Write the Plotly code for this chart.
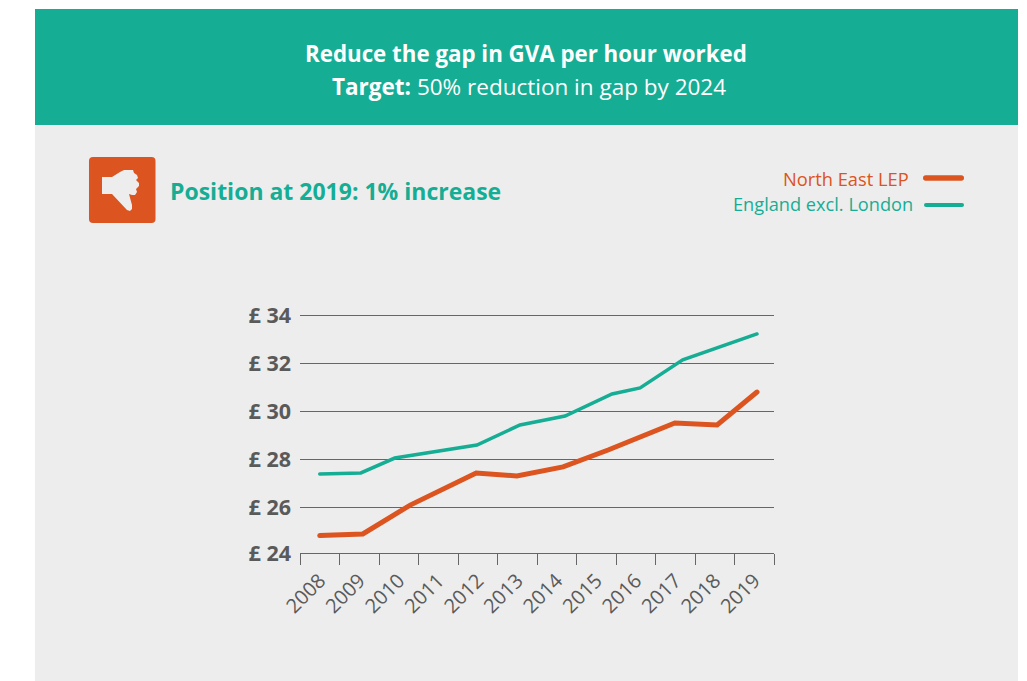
import plotly.graph_objects as go

year_labels = [2008,2009,2010,2011,2012,2013,2014,2015,2016,2017,2018,2019]
north_east_x = [2008.0,2009.09,2010.29,2011.02,2011.96,2012.99,2014.16,2015.30,2016.31,2016.99,2018.06,2019.07]
north_east = [24.81,24.875,26.08,26.67,27.42,27.29,27.67,28.375,29.08,29.5,29.42,30.79]
england_x = [2008.0,2009.04,2009.90,2010.94,2011.98,2013.07,2014.21,2015.40,2016.11,2017.19,2018.13,2019.07]
england = [27.375,27.42,28.04,28.31,28.58,29.42,29.79,30.71,30.96,32.13,32.67,33.21]
y_ticks = [26,28,30,32,34]
y_labels = ["£ 26","£ 28","£ 30","£ 32","£ 34"]
ORANGE = "#dc5420"; GREEN = "#16ad95"; GREY = "#5a5a5a"; BG = "#ededed"
FONT = "Open Sans"
W, H = 1027, 681
L, R, T, B = 300, 774, 314, 553
Y_BOTTOM = 24.083   # the baseline sits slightly above the 24 position in the reference
Y_TOP = 34.042

def px(x): return (x - L) / (R - L)
def py(y): return (B - y) / (B - T)

fig = go.Figure()
fig.add_trace(go.Scatter(x=england_x, y=england, mode="lines", name="England excl. London",
                         line=dict(color=GREEN, width=3.5), showlegend=False))
fig.add_trace(go.Scatter(x=north_east_x, y=north_east, mode="lines", name="North East LEP",
                         line=dict(color=ORANGE, width=5), showlegend=False))

def rect(x0, y0, x1, y1, color):
    return dict(type="rect", xref="paper", yref="paper", layer="below", x0=px(x0), x1=px(x1),
                y0=py(y0), y1=py(y1), fillcolor=color, line_width=0)

def path(points, color):
    d = "M" + " L".join(f"{px(x):.5f},{py(y):.5f}" for x, y in points) + " Z"
    return dict(type="path", xref="paper", yref="paper", path=d, fillcolor=color, line_width=0)

def rounded(x0, y0, x1, y1, r, color):
    d = (f"M{px(x0+r):.5f},{py(y0):.5f} L{px(x1-r):.5f},{py(y0):.5f} "
         f"Q{px(x1):.5f},{py(y0):.5f} {px(x1):.5f},{py(y0+r):.5f} L{px(x1):.5f},{py(y1-r):.5f} "
         f"Q{px(x1):.5f},{py(y1):.5f} {px(x1-r):.5f},{py(y1):.5f} L{px(x0+r):.5f},{py(y1):.5f} "
         f"Q{px(x0):.5f},{py(y1):.5f} {px(x0):.5f},{py(y1-r):.5f} L{px(x0):.5f},{py(y0+r):.5f} "
         f"Q{px(x0):.5f},{py(y0):.5f} {px(x0+r):.5f},{py(y0):.5f} Z")
    return dict(type="path", xref="paper", yref="paper", path=d, fillcolor=color, line_width=0)

thumb = [(102,177),(112,177),(120,172),(124,170),(133,170),(134,173),(137,175),(138,178),(136,180),
         (139,183),(139,186),(136,189),(137,192),(135,195),(132,195),(129,194),(132,205),(132,209),
         (130,211),(127,210),(112,194),(102,194)]

shapes = [rect(35,125,1018,681,BG), rect(35,9,1018,125,GREEN),
          rounded(89,157,155.5,223,4,ORANGE), path(thumb,BG),
          rounded(923,175.3,964,180.7,2.7,ORANGE), rounded(924,203,964,207,2,GREEN)]

def note(x, y, text, size, color, anchor="center"):
    return dict(xref="paper", yref="paper", x=px(x), y=py(y), text=text, showarrow=False, xanchor=anchor,
                yanchor="middle", font=dict(family=FONT, size=size, color=color))

annotations = [
    note(526,53.5,"<b>Reduce the gap in GVA per hour worked</b>",22.3,"white"),
    note(528.5,86.5,"<b>Target:</b> 50% reduction in gap by 2024",22.5,"white"),
    note(167.5,190.5,"<b>Position at 2019: 1% increase</b>",23,GREEN,"left"),
    note(911,178,"North East LEP",18.3,ORANGE,"right"),
    note(915,204,"England excl. London",18.2,GREEN,"right"),
]

fig.update_layout(
    width=W, height=H, autosize=False, margin=dict(l=L, r=W-R, t=T, b=H-B, pad=0),
    paper_bgcolor="white", plot_bgcolor=BG, shapes=shapes, annotations=annotations,
    font=dict(family=FONT, color=GREY),
    xaxis=dict(range=[2007.5,2019.5], tickvals=year_labels, ticktext=[str(y) for y in year_labels],
               ticks="", ticklabelstandoff=7,
               minor=dict(tick0=2007.5, dtick=1, ticks="outside", ticklen=11, tickcolor="#666666",
                          tickwidth=1, showgrid=False),
               showline=True, linecolor="#666666", linewidth=1, showgrid=False, zeroline=False, tickangle=-45,
               tickfont=dict(family=FONT, size=20, color=GREY)),
    yaxis=dict(range=[Y_BOTTOM,Y_TOP], tickvals=[Y_BOTTOM]+y_ticks,
               ticktext=["<b>£ 24</b>"]+[f"<b>{t}</b>" for t in y_labels],
               showgrid=True, gridcolor="#666666", gridwidth=1, zeroline=False, showline=False,
               ticks="", ticklabelstandoff=8, tickfont=dict(family=FONT, size=21.5, color=GREY)),
)
fig.write_html("out.html", config=dict(displayModeBar=False),
               post_script="document.body.style.margin='0';document.querySelectorAll('.js-line').forEach(function(p){p.style.strokeLinecap='round';});")
